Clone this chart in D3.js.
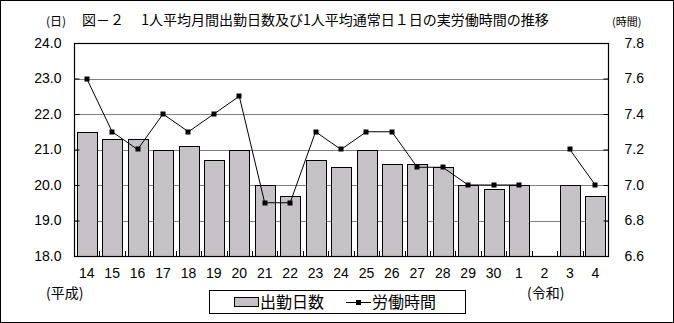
<!DOCTYPE html>
<html><head><meta charset="utf-8">
<script src="https://cdn.jsdelivr.net/npm/d3@7"></script>
<style>
html,body{margin:0;padding:0;background:#fff;}
svg{display:block;}
text{font-family:"Liberation Sans","Noto Sans CJK JP",sans-serif;fill:#000;}
.jp{font-family:"Noto Sans CJK JP","Noto Sans CJK SC",sans-serif;}
</style></head>
<body>
<svg id="c" width="674" height="323"></svg>
<script>
const categories = ["14","15","16","17","18","19","20","21","22","23","24","25","26","27","28","29","30","1","2","3","4"];
const days = [21.5,21.3,21.3,21.0,21.1,20.7,21.0,20.0,19.7,20.7,20.5,21.0,20.6,20.6,20.5,20.0,19.9,20.0,null,20.0,19.7];
const hours = [7.6,7.3,7.2,7.4,7.3,7.4,7.5,6.9,6.9,7.3,7.2,7.3,7.3,7.1,7.1,7.0,7.0,7.0,null,7.2,7.0];
const leftTicks = [18,19,20,21,22,23,24];
const rightTicks = [6.6,6.8,7.0,7.2,7.4,7.6,7.8];
const title = "図－２　 1人平均月間出勤日数及び1人平均通常日１日の実労働時間の推移";
const seriesNames = ["出勤日数","労働時間"];

const svg = d3.select("#c");
const W = 674, H = 323;
const plot = {l:74, r:608, t:43, b:256};

svg.append("rect").attr("x",0.5).attr("y",0.5).attr("width",W-1).attr("height",H-1)
  .attr("fill","#fff").attr("stroke","#000");

const defs = svg.append("defs");
const pat = defs.append("pattern").attr("id","dith").attr("patternUnits","userSpaceOnUse")
  .attr("width",2).attr("height",2);
pat.append("rect").attr("width",2).attr("height",2).attr("fill","#b8c8b8");
pat.append("rect").attr("x",0).attr("y",0).attr("width",1).attr("height",1).attr("fill","#d4bcd4");
pat.append("rect").attr("x",1).attr("y",1).attr("width",1).attr("height",1).attr("fill","#d4bcd4");

const x = d3.scaleBand().domain(categories).range([plot.l, plot.r]).paddingInner(0.22).paddingOuter(0.11);
const yL = d3.scaleLinear().domain([18,24]).range([plot.b, plot.t]);
const yR = d3.scaleLinear().domain([6.6,7.8]).range([plot.b, plot.t]);

svg.append("g").selectAll("line").data(leftTicks.slice(1,-1)).join("line")
  .attr("x1",plot.l).attr("x2",plot.r)
  .attr("y1",d=>Math.round(yL(d))+0.5).attr("y2",d=>Math.round(yL(d))+0.5)
  .attr("stroke","#808080").attr("stroke-width",1);

svg.append("g").selectAll("rect").data(categories.map((c,i)=>({c,v:days[i]})).filter(d=>d.v!=null)).join("rect")
  .attr("x",d=>Math.round(x(d.c))+0.5)
  .attr("y",d=>Math.round(yL(d.v))+0.5)
  .attr("width",Math.round(x.bandwidth()))
  .attr("height",d=>Math.round(yL(18))-Math.round(yL(d.v)))
  .attr("fill","url(#dith)").attr("stroke","#000").attr("stroke-width",1);

const axL = d3.axisLeft(yL).tickValues(leftTicks).tickFormat(d3.format(".1f")).tickSizeInner(-5).tickSizeOuter(0).tickPadding(13);
const gL = svg.append("g").attr("transform",`translate(${plot.l+0.5},0)`).call(axL);
const axR = d3.axisRight(yR).tickValues(rightTicks).tickFormat(d3.format(".1f")).tickSizeInner(-5).tickSizeOuter(0).tickPadding(16);
const gR = svg.append("g").attr("transform",`translate(${plot.r+0.5},0)`).call(axR);
[gL,gR].forEach(g=>{
  g.select(".domain").remove();
  g.selectAll("line").attr("stroke","#000");
  g.selectAll("text").attr("font-size",14).attr("font-family","Liberation Sans, sans-serif");
});
const step = x.step();
const bounds = categories.slice(1).map((c,i)=>x(c) - x.paddingInner()*step/2);
svg.append("g").selectAll("line").data(bounds).join("line")
  .attr("x1",d=>Math.round(d)+0.5).attr("x2",d=>Math.round(d)+0.5)
  .attr("y1",plot.b-5).attr("y2",plot.b).attr("stroke","#000");
svg.append("g").selectAll("text").data(categories).join("text")
  .attr("x",d=>x(d)+x.bandwidth()/2).attr("y",278)
  .attr("text-anchor","middle").attr("font-size",14).text(d=>d);

svg.append("rect").attr("x",plot.l+0.5).attr("y",plot.t+0.5)
  .attr("width",plot.r-plot.l).attr("height",plot.b-plot.t)
  .attr("fill","none").attr("stroke","#000").attr("stroke-width",1.2);

const pts = categories.map((c,i)=>({c,v:hours[i]}));
const line = d3.line().defined(d=>d.v!=null).x(d=>x(d.c)+x.bandwidth()/2).y(d=>yR(d.v));
svg.append("path").datum(pts).attr("d",line).attr("fill","none").attr("stroke","#000").attr("stroke-width",1);
svg.append("g").selectAll("rect").data(pts.filter(d=>d.v!=null)).join("rect")
  .attr("x",d=>Math.round(x(d.c)+x.bandwidth()/2)-2.5)
  .attr("y",d=>Math.round(yR(d.v))-2.5)
  .attr("width",5).attr("height",5).attr("fill","#000");

svg.append("text").attr("class","jp").attr("x",82).attr("y",25).attr("font-size",14).text(title);
svg.append("text").attr("class","jp").attr("x",46).attr("y",26).attr("font-size",12).text("(日)");
svg.append("text").attr("class","jp").attr("x",612).attr("y",26).attr("font-size",11).text("(時間)");
svg.append("text").attr("class","jp").attr("x",46).attr("y",298).attr("font-size",14).text("(平成)");
svg.append("text").attr("class","jp").attr("x",527).attr("y",298).attr("font-size",14).text("(令和)");

const lg = svg.append("g");
lg.append("rect").attr("x",209.5).attr("y",290.5).attr("width",256).attr("height",23)
  .attr("fill","#fff").attr("stroke","#000");
lg.append("rect").attr("x",234.5).attr("y",297.5).attr("width",24).attr("height",9)
  .attr("fill","url(#dith)").attr("stroke","#000");
lg.append("text").attr("class","jp").attr("x",260).attr("y",308).attr("font-size",16).text(seriesNames[0]);
lg.append("line").attr("x1",346).attr("x2",371).attr("y1",302.5).attr("y2",302.5).attr("stroke","#000");
lg.append("rect").attr("x",356).attr("y",300).attr("width",5).attr("height",5).attr("fill","#000");
lg.append("text").attr("class","jp").attr("x",372).attr("y",308).attr("font-size",16).text(seriesNames[1]);
</script>
</body></html>
